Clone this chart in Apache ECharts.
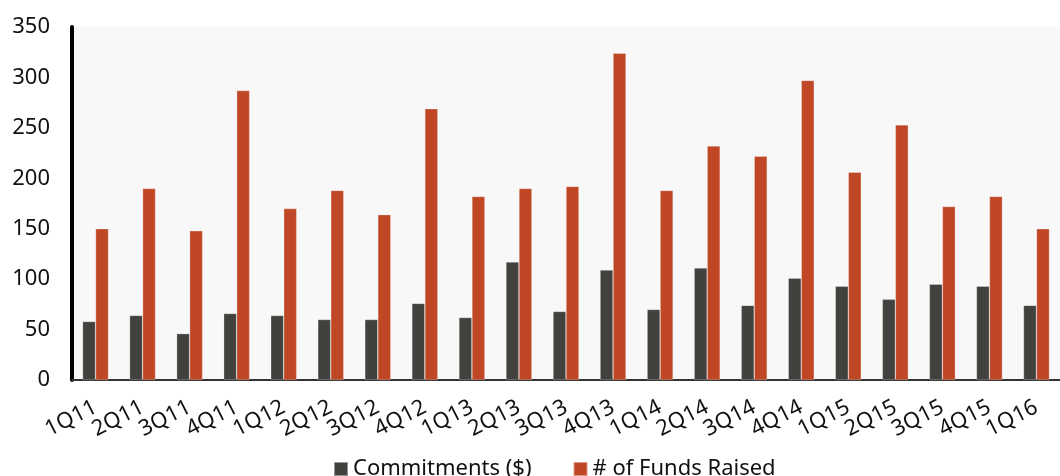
<!DOCTYPE html>
<html>
<head>
<meta charset="utf-8">
<script src="https://cdn.jsdelivr.net/npm/echarts@6/dist/echarts.min.js"></script>
<style>
  html, body { margin: 0; padding: 0; background: #ffffff; }
  #chart { width: 1060px; height: 476px; }
</style>
</head>
<body>
<div id="chart"></div>
<script>
// Quarterly fundraising: commitments and number of funds raised
const quarters = ['1Q11','2Q11','3Q11','4Q11','1Q12','2Q12','3Q12','4Q12','1Q13','2Q13','3Q13',
                  '4Q13','1Q14','2Q14','3Q14','4Q14','1Q15','2Q15','3Q15','4Q15','1Q16'];
const commitments = [58, 64, 46, 66, 64, 60, 60, 76, 62, 117, 68, 109, 70, 111, 74, 101, 93, 80, 95, 93, 74];
const fundsRaised = [150, 190, 148, 287, 170, 188, 164, 269, 182, 190, 192, 324, 188, 232, 222, 297, 206, 253, 172, 182, 150];
const seriesNames = ['Commitments ($)', '# of Funds Raised'];

const FONT = '"Noto Sans", "Open Sans", sans-serif';
const chart = echarts.init(document.getElementById('chart'));

chart.setOption({
  animation: false,
  textStyle: { fontFamily: FONT },
  grid: {
    left: 72, top: 27, bottom: 96, width: 999,
    show: true, backgroundColor: '#F8F8F8', borderWidth: 0
  },
  legend: {
    top: 453, left: 328,
    itemWidth: 14, itemHeight: 14, itemGap: 41,
    icon: 'rect',
    textStyle: { fontSize: 22, color: '#111', fontFamily: FONT },
    data: seriesNames
  },
  xAxis: {
    type: 'category',
    data: quarters,
    axisLine: { lineStyle: { color: '#333', width: 2 } },
    axisTick: { show: false },
    axisLabel: { rotate: 27, margin: 26, fontSize: 22, color: '#111', fontFamily: FONT, interval: 0 }
  },
  yAxis: {
    type: 'value',
    min: 0, max: 350, interval: 50,
    splitLine: { show: false },
    axisLine: { show: true, lineStyle: { color: '#000', width: 4, cap: 'round' } },
    axisTick: { show: false },
    axisLabel: { fontSize: 22, color: '#111', margin: 22, fontFamily: FONT }
  },
  series: [
    {
      name: seriesNames[0], type: 'bar', data: commitments,
      barWidth: 13, barGap: '0%',
      itemStyle: { color: '#43413D', borderColor: 'rgba(255,255,255,0.45)', borderWidth: 0.6 }
    },
    {
      name: seriesNames[1], type: 'bar', data: fundsRaised,
      barWidth: 13, barGap: '0%',
      itemStyle: { color: '#C04726', borderColor: 'rgba(255,255,255,0.45)', borderWidth: 0.6 }
    }
  ]
});
</script>
</body>
</html>
